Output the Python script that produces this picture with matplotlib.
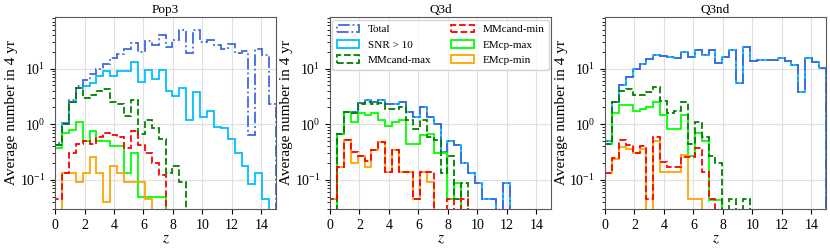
import numpy as np
import matplotlib
matplotlib.use("Agg")
import matplotlib.pyplot as plt

plt.rcParams["font.family"] = ["Liberation Serif", "DejaVu Serif"]
plt.rcParams["mathtext.fontset"] = "stix"

# ---- Redshift binning (32 bins over 0 < z < 15) ----
Z_EDGES = np.linspace(0, 15, 33)

# ---- Average number in 4 yr per bin ----
POP3_TOTAL = [0.46, 1.07, 2.7, 4.9, 6.2, 7.9, 10, 12, 15.7, 18, 23, 28.5, 20, 32, 27, 40,
              24.8, 32.6, 49, 18.8, 49, 30.5, 32.6, 26.5, 22.1, 28, 19, 20.7, 0.63, 23, 17.5, 2.3]
POP3_SNR = [0.42, 1.0, 2.5, 4.5, 4.8, 5.5, 7.5, 9.0, 7.5, 9.0, 9.0, 13, 5.8, 9.5, 6.5, 9.4,
            3.9, 3.2, 4.5, 1.18, 3.8, 1.35, 1.7, 0.88, 0.85, 0.55, 0.3, 0.18, 0.085, 0.13, 0.045, 0]
POP3_MMMAX = [0.42, 1.0, 2.5, 4.4, 3.0, 3.3, 3.9, 4.3, 2.5, 2.3, 1.4, 2.7, 0.68, 1.2, 0.85, 0.55,
              0.13, 0.18, 0.09]
POP3_MMMIN = [0.045, 0.13, 0.3, 0.45, 0.5, 0.45, 0.6, 0.7, 0.65, 0.6, 0.38, 0.75, 0.42, 0.3, 0.2, 0.12]
POP3_EMMAX = [0.38, 0.7, 0.8, 1.1, 0.5, 0.75, 0.5, 0.5, 0.4, 0.4, 0.13, 0.3, 0.05, 0.05, 0.05, 0.05]
POP3_EMMIN = [0, 0.13, 0.13, 0.09, 0.13, 0.26, 0.13, 0.04, 0.18, 0.13, 0.09, 0.09, 0.09, 0.045]

Q3D_TOTAL = [0.045, 0.68, 1.67, 1.67, 2.4, 2.7, 2.5, 2.7, 2.3, 2.3, 2.5, 1.67, 1.36, 2.0, 1.36, 1.03,
             0.32, 0.49, 0.43, 0.2, 0.13, 0.088, 0.046, 0.046, 0, 0.088]
Q3D_SNR = [0.045, 0.68, 1.67, 1.67, 2.4, 2.7, 2.5, 2.7, 2.3, 2.3, 2.5, 1.67, 1.36, 2.0, 1.36, 1.03,
           0.32, 0.49, 0.43, 0.2, 0.13, 0.088, 0.046, 0.046, 0, 0.088]
Q3D_MMMAX = [0, 0.68, 1.67, 1.56, 2.3, 2.5, 2.3, 2.4, 1.9, 1.9, 2.0, 1.2, 0.83, 1.18, 0.6, 0.51,
             0.13, 0.27, 0.045, 0.088]
Q3D_MMMIN = [0.045, 0.17, 0.53, 0.32, 0.27, 0.22, 0.35, 0.48, 0.14, 0.35, 0.14, 0.14, 0.046, 0.14, 0.14, 0,
             0, 0.046, 0, 0.046]
Q3D_EMMAX = [0, 0.68, 1.67, 1.1, 1.56, 1.45, 1.6, 1.18, 0.92, 1.1, 1.2, 0.45, 0.45, 0.63, 0.68, 0.3,
             0.3, 0.045, 0.088]
Q3D_EMMIN = [0.045, 0.17, 0.53, 0.2, 0.27, 0.17, 0.35, 0.48, 0.14, 0.35, 0.14, 0.14, 0.046, 0.14, 0.09]

Q3ND_TOTAL = [0.5, 2.5, 5.0, 7.1, 9.8, 11.9, 14.8, 17.5, 17, 16.3, 15.6, 19.6, 16.3, 21.5, 17.5, 22,
              12.4, 16.3, 22, 5.4, 24, 13.6, 14, 14.3, 14, 15.6, 13.6, 11.6, 3.8, 15.7, 12.9, 10.4]
Q3ND_SNR = [0.5, 2.5, 5.0, 7.1, 9.8, 11.9, 14.8, 17.5, 17, 16.3, 15.6, 19.6, 16.3, 21.5, 17.5, 22,
            12.4, 16.3, 22, 5.4, 24, 13.6, 14, 14.3, 14, 15.6, 13.6, 11.6, 3.8, 15.7, 12.9, 10.4]
Q3ND_MMMAX = [0.45, 2.5, 4.0, 4.3, 3.3, 3.4, 3.8, 4.7, 2.6, 1.6, 1.7, 2.5, 0.45, 1.1, 0.6, 0.27,
              0.2, 0, 0.045, 0, 0.045]
Q3ND_MMMIN = [0.13, 0.25, 0.53, 0.42, 0.3, 0.4, 0.045, 0.6, 0.21, 0.17, 0.17, 0.26, 0.26, 0.37, 0.14, 0.046]
Q3ND_EMMAX = [0.45, 1.6, 2.2, 2.2, 1.7, 1.9, 2.0, 2.5, 1.45, 0.83, 0.83, 1.45, 0.27, 0.7, 0.5, 0.043,
              0.043]
Q3ND_EMMIN = [0.13, 0.24, 0.39, 0.36, 0.3, 0.36, 0, 0.5, 0.14, 0.14, 0.14, 0.28, 0.045, 0.045]

PANELS = [
    ("Pop3", dict(total=POP3_TOTAL, snr=POP3_SNR, mmmax=POP3_MMMAX,
                  mmmin=POP3_MMMIN, emmax=POP3_EMMAX, emmin=POP3_EMMIN)),
    ("Q3d", dict(total=Q3D_TOTAL, snr=Q3D_SNR, mmmax=Q3D_MMMAX,
                 mmmin=Q3D_MMMIN, emmax=Q3D_EMMAX, emmin=Q3D_EMMIN)),
    ("Q3nd", dict(total=Q3ND_TOTAL, snr=Q3ND_SNR, mmmax=Q3ND_MMMAX,
                  mmmin=Q3ND_MMMIN, emmax=Q3ND_EMMAX, emmin=Q3ND_EMMIN)),
]

# key, label, colour, linestyle  (listed in drawing order)
STYLES = [
    ("snr", "SNR > 10", "deepskyblue", "-"),
    ("total", "Total", "royalblue", "-."),
    ("emmax", "EMcp-max", "lime", "-"),
    ("emmin", "EMcp-min", "orange", "-"),
    ("mmmax", "MMcand-max", "green", "--"),
    ("mmmin", "MMcand-min", "red", "--"),
]
LEGEND_ORDER = ["total", "snr", "mmmax", "mmmin", "emmax", "emmin"]


def padded(vals):
    out = np.zeros(len(Z_EDGES) - 1)
    out[:len(vals)] = vals
    return out


fig, axes = plt.subplots(1, 3, figsize=(8.3, 2.49), dpi=100)
fig.subplots_adjust(left=0.0663, right=0.9952, bottom=0.161, top=0.932, wspace=0.244)
centers = 0.5 * (Z_EDGES[1:] + Z_EDGES[:-1])

for ax, (title, d) in zip(axes, PANELS):
    handles = {}
    for key, label, color, ls in STYLES:
        _, _, patches = ax.hist(centers, bins=Z_EDGES, weights=padded(d[key]),
                                histtype="step", color=color, ls=ls, lw=1.3, label=label)
        handles[key] = patches[0]
    ax.set_yscale("log")
    ax.set_xlim(0, 15)
    ax.set_ylim(0.03, 85)
    ax.set_xticks(range(0, 15, 2))
    ax.grid(True, color="0.88", lw=0.8)
    ax.set_axisbelow(True)
    ax.tick_params(labelsize=10)
    for sp in ax.spines.values():
        sp.set_color("0.35")
    ax.set_title(title, fontsize=9.5, pad=3)
    ax.set_xlabel("$z$", fontsize=11, labelpad=1)
    ax.set_ylabel("Average number in 4 yr", fontsize=11, labelpad=1)
    if title == "Q3d":
        hs = [handles[k] for k in LEGEND_ORDER]
        ax.legend(hs, [h.get_label() for h in hs], loc="upper center", ncol=2,
                  fontsize=8, handlelength=2.0, columnspacing=1.8, borderaxespad=0.3)

fig.savefig("out.png", dpi=100)
